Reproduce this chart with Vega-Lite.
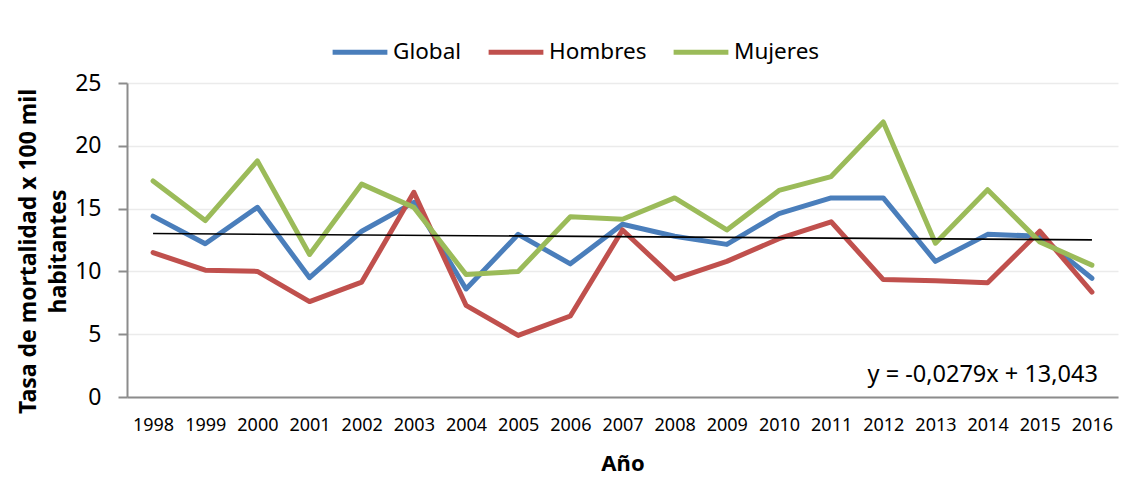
{
  "$schema": "https://vega.github.io/schema/vega-lite/v6.json",
  "width": 991,
  "height": 314,
  "autosize": {"type": "none"},
  "padding": {"left": 127, "top": 83, "right": 13, "bottom": 89},
  "background": "white",
  "config": {"view": {"stroke": null}, "font": "Noto Sans"},
  "datasets": {
    "series": [
      {"anio": "1998", "serie": "Global", "tasa": 14.4},
      {"anio": "1999", "serie": "Global", "tasa": 12.2},
      {"anio": "2000", "serie": "Global", "tasa": 15.1},
      {"anio": "2001", "serie": "Global", "tasa": 9.5},
      {"anio": "2002", "serie": "Global", "tasa": 13.2},
      {"anio": "2003", "serie": "Global", "tasa": 15.5},
      {"anio": "2004", "serie": "Global", "tasa": 8.6},
      {"anio": "2005", "serie": "Global", "tasa": 12.95},
      {"anio": "2006", "serie": "Global", "tasa": 10.6},
      {"anio": "2007", "serie": "Global", "tasa": 13.75},
      {"anio": "2008", "serie": "Global", "tasa": 12.8},
      {"anio": "2009", "serie": "Global", "tasa": 12.15},
      {"anio": "2010", "serie": "Global", "tasa": 14.6},
      {"anio": "2011", "serie": "Global", "tasa": 15.85},
      {"anio": "2012", "serie": "Global", "tasa": 15.85},
      {"anio": "2013", "serie": "Global", "tasa": 10.8},
      {"anio": "2014", "serie": "Global", "tasa": 12.95},
      {"anio": "2015", "serie": "Global", "tasa": 12.8},
      {"anio": "2016", "serie": "Global", "tasa": 9.45},
      {"anio": "1998", "serie": "Hombres", "tasa": 11.5},
      {"anio": "1999", "serie": "Hombres", "tasa": 10.1},
      {"anio": "2000", "serie": "Hombres", "tasa": 10.0},
      {"anio": "2001", "serie": "Hombres", "tasa": 7.6},
      {"anio": "2002", "serie": "Hombres", "tasa": 9.15},
      {"anio": "2003", "serie": "Hombres", "tasa": 16.3},
      {"anio": "2004", "serie": "Hombres", "tasa": 7.3},
      {"anio": "2005", "serie": "Hombres", "tasa": 4.9},
      {"anio": "2006", "serie": "Hombres", "tasa": 6.45},
      {"anio": "2007", "serie": "Hombres", "tasa": 13.3},
      {"anio": "2008", "serie": "Hombres", "tasa": 9.4},
      {"anio": "2009", "serie": "Hombres", "tasa": 10.8},
      {"anio": "2010", "serie": "Hombres", "tasa": 12.6},
      {"anio": "2011", "serie": "Hombres", "tasa": 13.95},
      {"anio": "2012", "serie": "Hombres", "tasa": 9.35},
      {"anio": "2013", "serie": "Hombres", "tasa": 9.25},
      {"anio": "2014", "serie": "Hombres", "tasa": 9.1},
      {"anio": "2015", "serie": "Hombres", "tasa": 13.2},
      {"anio": "2016", "serie": "Hombres", "tasa": 8.35},
      {"anio": "1998", "serie": "Mujeres", "tasa": 17.2},
      {"anio": "1999", "serie": "Mujeres", "tasa": 14.05},
      {"anio": "2000", "serie": "Mujeres", "tasa": 18.8},
      {"anio": "2001", "serie": "Mujeres", "tasa": 11.35},
      {"anio": "2002", "serie": "Mujeres", "tasa": 16.95},
      {"anio": "2003", "serie": "Mujeres", "tasa": 15.1},
      {"anio": "2004", "serie": "Mujeres", "tasa": 9.75},
      {"anio": "2005", "serie": "Mujeres", "tasa": 10.0},
      {"anio": "2006", "serie": "Mujeres", "tasa": 14.35},
      {"anio": "2007", "serie": "Mujeres", "tasa": 14.15},
      {"anio": "2008", "serie": "Mujeres", "tasa": 15.85},
      {"anio": "2009", "serie": "Mujeres", "tasa": 13.3},
      {"anio": "2010", "serie": "Mujeres", "tasa": 16.45},
      {"anio": "2011", "serie": "Mujeres", "tasa": 17.55},
      {"anio": "2012", "serie": "Mujeres", "tasa": 21.9},
      {"anio": "2013", "serie": "Mujeres", "tasa": 12.25},
      {"anio": "2014", "serie": "Mujeres", "tasa": 16.5},
      {"anio": "2015", "serie": "Mujeres", "tasa": 12.35},
      {"anio": "2016", "serie": "Mujeres", "tasa": 10.5}
    ],
    "tendencia": [
      {"anio": "1998", "tasa": 13.015},
      {"anio": "2016", "tasa": 12.513}
    ],
    "ecuacion": [
      {"anio": "2016", "tasa": 1.75, "texto": "y = -0,0279x + 13,043"}
    ]
  },
  "layer": [
    {
      "data": {"name": "series"},
      "mark": {"type": "line", "strokeWidth": 5, "strokeCap": "round", "strokeJoin": "round"},
      "encoding": {
        "x": {
          "field": "anio", "type": "ordinal",
          "scale": {"type": "point", "padding": 0.5},
          "axis": {
            "title": "Año", "labelAngle": 0, "ticks": false, "tickSize": 0,
            "domainColor": "#8c8c8c", "domainWidth": 2,
            "labelFontSize": 18, "labelColor": "black", "labelPadding": 19,
            "titleFontSize": 22, "titleFontWeight": "bold", "titleColor": "black", "titlePadding": 19,
            "grid": false
          }
        },
        "y": {
          "field": "tasa", "type": "quantitative",
          "scale": {"domain": [0, 25], "nice": false},
          "axis": {
            "values": [0, 5, 10, 15, 20, 25],
            "title": ["Tasa de mortalidad x 100 mil", "habitantes"],
            "grid": true, "gridColor": "#ebebeb", "gridWidth": 1.5,
            "domainColor": "#8c8c8c", "domainWidth": 2,
            "tickColor": "#8c8c8c", "tickWidth": 2, "tickSize": 9,
            "labelFontSize": 23, "labelPadding": 17, "labelColor": "black",
            "titleFontSize": 23, "titleFontWeight": "bold", "titleColor": "black",
            "titleLineHeight": 30, "titlePadding": 4, "titleY": 168
          }
        },
        "color": {
          "field": "serie", "type": "nominal",
          "scale": {"domain": ["Global", "Hombres", "Mujeres"], "range": ["#4A7EBB", "#C0504D", "#9BBB59"]},
          "legend": {
            "title": null, "orient": "none", "legendX": 203, "legendY": -61,
            "direction": "horizontal", "symbolType": "stroke", "symbolSize": 3000,
            "symbolStrokeWidth": 5, "labelFontSize": 22.5, "labelOffset": 3,
            "columnPadding": 16, "padding": 0, "labelColor": "black"
          }
        }
      }
    },
    {
      "data": {"name": "tendencia"},
      "mark": {"type": "line", "color": "black", "strokeWidth": 1.6},
      "encoding": {
        "x": {"field": "anio", "type": "ordinal"},
        "y": {"field": "tasa", "type": "quantitative"}
      }
    },
    {
      "data": {"name": "ecuacion"},
      "mark": {"type": "text", "align": "right", "baseline": "middle", "dx": 6, "fontSize": 23.5, "color": "black"},
      "encoding": {
        "x": {"field": "anio", "type": "ordinal"},
        "y": {"field": "tasa", "type": "quantitative"},
        "text": {"field": "texto"}
      }
    }
  ]
}
